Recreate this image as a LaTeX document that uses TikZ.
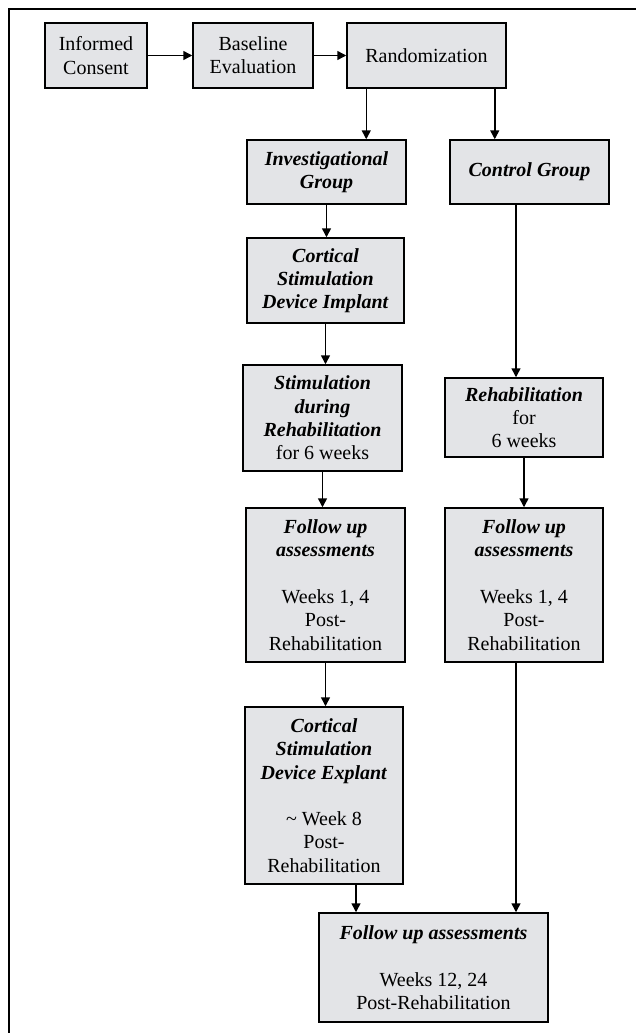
\documentclass[tikz,border=0pt]{standalone}
\usepackage{fontspec}
\setmainfont{Liberation Serif}
\usepackage{xcolor}
\usetikzlibrary{positioning,calc,arrows.meta}
\newcommand{\bfit}[1]{\textbf{\textit{#1}}}
\definecolor{boxgray}{RGB}{227,228,231}

\begin{document}
\begin{tikzpicture}[x=0.5pt,y=-0.5pt,->,>={Triangle[length=4.5pt,width=4.5pt]},
        line width=0.75pt,main node/.style={draw, rectangle, fill=boxgray, align=center,
        inner sep=1pt, font=\fontsize{10}{11.65}\selectfont}]

\useasboundingbox (0,0) rectangle (636,1033);
\draw[-, line width=1.3pt] (9,1040) -- (9,9) -- (645,9);

\node[main node, minimum width=51pt, minimum height=32.5pt] (1) at (96,55.5) {Informed\\Consent};
\node[main node, minimum width=60pt, minimum height=32.5pt] (2) at (253,55.5) {Baseline\\Evaluation};
\node[main node, minimum width=79.5pt, minimum height=32.5pt] (3) at (426.5,55.5) {Randomization};

\node[main node, minimum width=79.5pt, minimum height=32pt] (4) at (326.5,172) {\bfit{Investigational}\\\bfit{Group}};
\node[main node, minimum width=79.5pt, minimum height=32pt] (5) at (529.5,172) {\bfit{Control Group}};

\node[main node, minimum width=78.5pt, minimum height=42.5pt] (6) at (325.5,280.5) {\bfit{Cortical}\\\bfit{Stimulation}\\\bfit{Device Implant}};
\node[main node, minimum width=79.5pt, minimum height=53pt] (7) at (322.5,418) {\bfit{Stimulation}\\\bfit{during}\\\bfit{Rehabilitation}\\for 6 weeks};
\node[main node, minimum width=79pt, minimum height=39.5pt] (8) at (524,417.5) {\bfit{Rehabilitation}\\for\\6 weeks};

\node[main node, minimum width=79.5pt, minimum height=77pt] (9) at (325.5,585) {\bfit{Follow up}\\\bfit{assessments}\\ \\Weeks 1, 4\\Post-\\Rehabilitation};
\node[main node, minimum width=79pt, minimum height=77pt] (10) at (524,585) {\bfit{Follow up}\\\bfit{assessments}\\ \\Weeks 1, 4\\Post-\\Rehabilitation};

\node[main node, minimum width=79pt, minimum height=88.5pt] (11) at (324,795.5) {\bfit{Cortical}\\\bfit{Stimulation}\\\bfit{Device Explant}\\ \\\textasciitilde{} Week 8\\Post-\\Rehabilitation};
\node[main node, minimum width=114.5pt, minimum height=54.5pt] (12) at (433.5,967.5) {\bfit{Follow up assessments}\\ \\Weeks 12, 24\\Post-Rehabilitation};

\draw (1) -- (2);
\draw (2) -- (3);
\draw ([xshift=10pt]3.south west) -- ([xshift=10pt]3.south west |- 4.north);
\draw ([xshift=-6pt]3.south east) -- ([xshift=-6pt]3.south east |- 5.north);
\draw (4.south) -- (4.south |- 6.north);
\draw (6.south) -- (6.south |- 7.north);
\draw ([xshift=-6.75pt]5.south) -- ([xshift=-6.75pt]5.south |- 8.north);
\draw (7.south) -- (7.south |- 9.north);
\draw (8.south) -- (8.south |- 10.north);
\draw (9.south) -- (9.south |- 11.north);
\draw ([xshift=16pt]11.south) -- ([xshift=16pt]11.south |- 12.north);
\draw ([xshift=-4pt]10.south) -- ([xshift=-4pt]10.south |- 12.north);

\end{tikzpicture}
\end{document}
